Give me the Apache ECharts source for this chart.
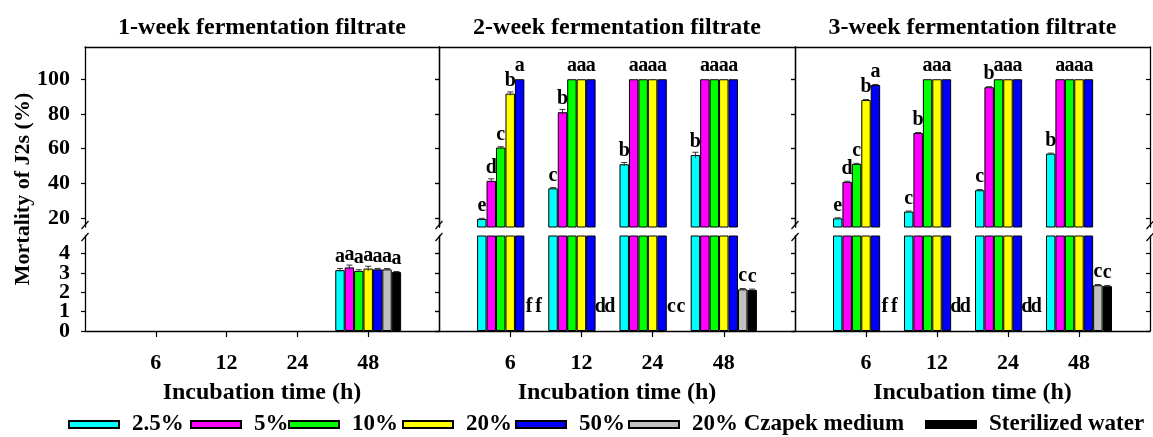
<!DOCTYPE html>
<html>
<head>
<meta charset="utf-8">
<script src="https://cdn.jsdelivr.net/npm/echarts@6/dist/echarts.min.js"></script>
<style>
  html, body { margin: 0; padding: 0; background: #fff; }
  #main { width: 1153px; height: 437px; }
</style>
</head>
<body>
<div id="main"></div>
<script>
const times = ['6', '12', '24', '48'];
const treatments = ['2.5%', '5%', '10%', '20%', '50%', '20% Czapek medium', 'Sterilized water'];
const barColors = ['#00ffff', '#ff00ff', '#00ff00', '#ffff00', '#0000ff', '#c0c0c0', '#000000'];
const panelTitles = ['1-week fermentation filtrate', '2-week fermentation filtrate', '3-week fermentation filtrate'];
const upperTicks = [20, 40, 60, 80, 100];
const lowerTicks = [0, 1, 2, 3, 4];

// rows = treatments, columns = incubation time (6, 12, 24, 48 h)
const week1Values = [
  [0, 0, 0, 3.14],
  [0, 0, 0, 3.28],
  [0, 0, 0, 3.1],
  [0, 0, 0, 3.22],
  [0, 0, 0, 3.18],
  [0, 0, 0, 3.18],
  [0, 0, 0, 3.04]
];
const week1Errors = [
  [0, 0, 0, 0.08],
  [0, 0, 0, 0.12],
  [0, 0, 0, 0.06],
  [0, 0, 0, 0.12],
  [0, 0, 0, 0.05],
  [0, 0, 0, 0.04],
  [0, 0, 0, 0.03]
];
const week1Letters = [
  ['', '', '', 'a'],
  ['', '', '', 'a'],
  ['', '', '', 'a'],
  ['', '', '', 'a'],
  ['', '', '', 'a'],
  ['', '', '', 'a'],
  ['', '', '', 'a']
];

const week2Values = [
  [19.4, 37.1, 51, 56.3],
  [41.4, 81, 100, 100],
  [60.6, 100, 100, 100],
  [91.7, 100, 100, 100],
  [100, 100, 100, 100],
  [0, 0, 0, 2.15],
  [0, 0, 0, 2.12]
];
const week2Errors = [
  [0.4, 0.4, 1, 1.6],
  [1.2, 1.6, 0, 0],
  [0.5, 0, 0, 0],
  [1, 0, 0, 0],
  [0, 0, 0, 0],
  [0, 0, 0, 0.04],
  [0, 0, 0, 0.04]
];
const week2Letters = [
  ['e', 'c', 'b', 'b'],
  ['d', 'b', 'a', 'a'],
  ['c', 'a', 'a', 'a'],
  ['b', 'a', 'a', 'a'],
  ['a', 'a', 'a', 'a'],
  ['f', 'd', 'c', 'c'],
  ['f', 'd', 'c', 'c']
];

const week3Values = [
  [19.8, 23.7, 36, 57.1],
  [40.8, 69, 95.4, 100],
  [51.2, 100, 100, 100],
  [88, 100, 100, 100],
  [96.7, 100, 100, 100],
  [0, 0, 0, 2.36],
  [0, 0, 0, 2.31]
];
const week3Errors = [
  [0.3, 0.3, 0.4, 0.3],
  [0.4, 0.3, 0.3, 0],
  [0.3, 0, 0, 0],
  [0.3, 0, 0, 0],
  [0.3, 0, 0, 0],
  [0, 0, 0, 0.04],
  [0, 0, 0, 0.04]
];
const week3Letters = [
  ['e', 'c', 'c', 'b'],
  ['d', 'b', 'b', 'a'],
  ['c', 'a', 'a', 'a'],
  ['b', 'a', 'a', 'a'],
  ['a', 'a', 'a', 'a'],
  ['f', 'd', 'd', 'c'],
  ['f', 'd', 'd', 'c']
];

const panels = [
  { values: week1Values, errors: week1Errors, letters: week1Letters },
  { values: week2Values, errors: week2Errors, letters: week2Letters },
  { values: week3Values, errors: week3Errors, letters: week3Letters }
];

// layout
const FONT = "'Liberation Serif', 'DejaVu Serif', serif";
const panelLeft = [85, 439, 795];
const panelWidth = [354, 356, 355];
const upperTop = 47, upperHeight = 180;
const lowerTop = 236, lowerHeight = 95;
const UPPER_MIN = 14.8, UPPER_MAX = 118.6, LOWER_MAX = 4.9;
const CAT_GAP = 0.07;

const axisFont = { fontFamily: FONT, fontWeight: 'bold', fontSize: 22, color: '#000' };
const nameFont = { fontFamily: FONT, fontWeight: 'bold', fontSize: 24, color: '#000' };
const lineStyle = { color: '#000', width: 1.3 };
const tickStyle = { color: '#000', width: 1.2 };
const cats = [''].concat(times, ['']);

const grid = [], xAxis = [], yAxis = [], series = [], graphic = [];

panels.forEach((panel, p) => {
  [0, 1].forEach(part => {
    const lower = part === 1;
    const gi = grid.length;
    const yMin = lower ? 0 : UPPER_MIN;
    const yMax = lower ? LOWER_MAX : UPPER_MAX;
    grid.push({
      left: panelLeft[p], width: panelWidth[p],
      top: lower ? lowerTop : upperTop,
      height: lower ? lowerHeight : upperHeight
    });
    xAxis.push({
      type: 'category', gridIndex: gi, data: cats, boundaryGap: false,
      position: lower ? 'bottom' : 'top',
      axisLine: { show: true, onZero: false, lineStyle },
      axisTick: {
        show: lower, length: 6, lineStyle: tickStyle,
        interval: (i) => i > 0 && i < cats.length - 1
      },
      axisLabel: { show: lower, interval: 0, margin: 21, ...axisFont },
      splitLine: { show: false },
      name: lower ? 'Incubation time (h)' : '',
      nameLocation: 'middle', nameGap: 50,
      nameTextStyle: nameFont
    });
    const ticks = lower ? lowerTicks : upperTicks;
    // the lower labels sit very close together, so they are split over two
    // overlaid axes to stop the library from dropping every other one
    const labelsA = lower ? ticks.filter((_, i) => i % 2 === 0) : ticks;
    const labelsB = lower ? ticks.filter((_, i) => i % 2 === 1) : [];
    const yi = yAxis.length;
    yAxis.push({
      type: 'value', gridIndex: gi, position: 'left', min: yMin, max: yMax,
      axisLine: { show: true, onZero: false, lineStyle },
      splitLine: { show: false },
      axisTick: { show: true, inside: false, length: 4, customValues: ticks, lineStyle: tickStyle },
      axisLabel: {
        show: p === 0, customValues: labelsA, margin: 15,
        showMinLabel: true, showMaxLabel: true, ...axisFont
      }
    });
    yAxis.push({
      type: 'value', gridIndex: gi, position: 'right', min: yMin, max: yMax,
      axisLine: { show: true, onZero: false, lineStyle },
      splitLine: { show: false },
      axisTick: { show: true, inside: true, length: 4, customValues: ticks, lineStyle: tickStyle },
      axisLabel: { show: false }
    });
    if (labelsB.length && p === 0) {
      yAxis.push({
        type: 'value', gridIndex: gi, position: 'left', offset: 0, min: yMin, max: yMax,
        axisLine: { show: false }, axisTick: { show: false }, splitLine: { show: false },
        axisLabel: {
          show: true, customValues: labelsB, margin: 15,
          showMinLabel: true, showMaxLabel: true, ...axisFont
        }
      });
    }

    const inThisPart = (v) => lower ? v <= LOWER_MAX : v > UPPER_MIN;

    treatments.forEach((name, k) => {
      const data = panel.values[k].map((v, g) => {
        const letter = panel.letters[k][g];
        const shown = !!letter && inThisPart(v);
        const item = {
          value: lower ? v : (v > UPPER_MIN ? v : '-'),
          label: { show: shown, formatter: letter, distance: v === 0 ? 14 : 3 }
        };
        if (v === 0) item.itemStyle = { borderWidth: 0 };
        return item;
      });
      series.push({
        type: 'bar', name, xAxisIndex: gi, yAxisIndex: yi,
        barGap: '0%', barCategoryGap: (CAT_GAP * 100) + '%',
        clip: true,
        itemStyle: { color: barColors[k], borderColor: '#000', borderWidth: 1 },
        label: { position: 'top', fontFamily: FONT, fontWeight: 'bold', fontSize: 20, color: '#000' },
        data: ['-'].concat(data, ['-'])
      });
    });

    // error bars
    const errData = [];
    treatments.forEach((_, k) => {
      panel.values[k].forEach((v, g) => {
        const e = panel.errors[k][g];
        if (e > 0 && inThisPart(v)) errData.push([g + 1, v, e, k]);
      });
    });
    series.push({
      type: 'custom', xAxisIndex: gi, yAxisIndex: yi, silent: true, z: 3,
      data: errData,
      renderItem: (params, api) => {
        const cat = api.value(0), v = api.value(1), e = api.value(2), k = api.value(3);
        const c = api.coord([cat, v]);
        const bw = api.size([1, 0])[0] * (1 - CAT_GAP) / treatments.length;
        const x = c[0] + (k - (treatments.length - 1) / 2) * bw;
        const yTop = api.coord([cat, v + e])[1];
        const yBot = api.coord([cat, v - e])[1];
        return {
          type: 'group', children: [
            { type: 'line', shape: { x1: x, y1: yTop, x2: x, y2: yBot }, style: { stroke: '#333', lineWidth: 1 } },
            { type: 'line', shape: { x1: x - 3, y1: yTop, x2: x + 3, y2: yTop }, style: { stroke: '#333', lineWidth: 1 } }
          ]
        };
      }
    });
  });

  graphic.push({
    type: 'text',
    x: panelLeft[p] + panelWidth[p] / 2, y: 28,
    style: {
      text: panelTitles[p], fill: '#000',
      font: 'bold 24px ' + FONT,
      align: 'center', verticalAlign: 'middle',
      textAlign: 'center', textVerticalAlign: 'middle'
    }
  });
});

// axis break marks
const breakX = [85, 439, 795, 1150];
breakX.forEach(x => {
  [229, 241].forEach(y0 => {
    graphic.push({
      type: 'line',
      shape: { x1: x - 3.5, y1: y0, x2: x + 3.5, y2: y0 - 8 },
      style: { stroke: '#000', lineWidth: 1.2 }
    });
  });
});

graphic.push({
  type: 'text', x: 23, y: 189, rotation: Math.PI / 2,
  style: {
    text: 'Mortality of J2s (%)', fill: '#000',
    font: 'bold 22px ' + FONT,
    align: 'center', verticalAlign: 'middle',
    textAlign: 'center', textVerticalAlign: 'middle'
  }
});

// one legend per item so each sits where it does in the figure
const legendLeft = [68, 190, 288, 402, 515, 628, 925];
const legend = treatments.map((name, k) => ({
  data: [name], left: legendLeft[k], top: 413, padding: 0,
  icon: 'rect', itemWidth: 50, itemHeight: 7,
  selectedMode: false,
  textStyle: { fontFamily: FONT, fontWeight: 'bold', fontSize: 23, color: '#000', padding: [0, 0, 0, 8] }
}));

const chart = echarts.init(document.getElementById('main'));
chart.setOption({
  animation: false,
  backgroundColor: '#fff',
  grid, xAxis, yAxis, series, legend, graphic
});
</script>
</body>
</html>
